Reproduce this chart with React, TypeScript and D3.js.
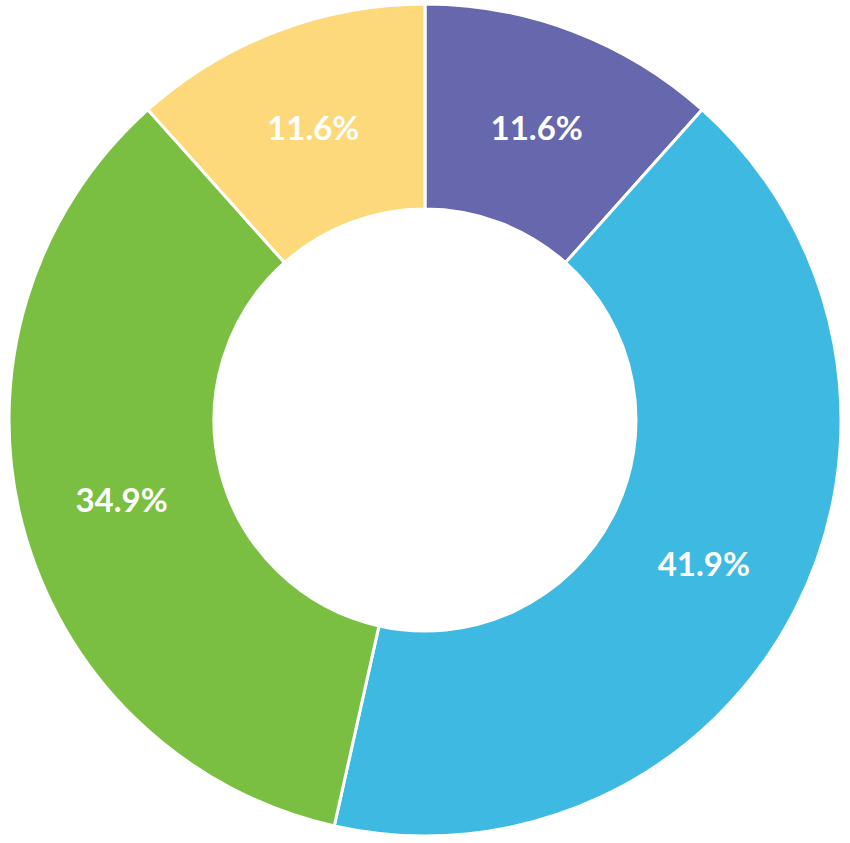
import React from "react";
import * as d3 from "d3";

const categories = ["A", "B", "C", "D"];
const values = [11.6, 41.9, 34.9, 11.6];
const labels = ["11.6%", "41.9%", "34.9%", "11.6%"];
const colors = ["#6667AD", "#3DB9E2", "#7ABF42", "#FDD97B"];

export default function App() {
  const width = 850;
  const height = 843;
  const cx = 425;
  const cy = 420;
  const outer = 416;
  const inner = 211;

  const data = categories.map((c, i) => ({ c, v: values[i], label: labels[i], color: colors[i] }));
  const pie = d3.pie<any>().value((d) => d.v).sort(null);
  const arcs = pie(data);
  const arc = d3.arc<any>().innerRadius(inner).outerRadius(outer);
  const labelArc = d3.arc<any>().innerRadius((inner + outer) / 2).outerRadius((inner + outer) / 2);

  return (
    <svg
      width={width}
      height={height}
      style={{ position: "absolute", left: 0, top: 0, background: "#fff" }}
    >
      <g transform={`translate(${cx},${cy})`}>
        {arcs.map((a, i) => (
          <path key={i} d={arc(a) as string} fill={a.data.color} stroke="#fff" strokeWidth={3} />
        ))}
        {arcs.map((a, i) => {
          const [x, y] = labelArc.centroid(a);
          return (
            <text
              key={"t" + i}
              x={x}
              y={y}
              textAnchor="middle"
              dominantBaseline="central"
              fill="#fff"
              fontFamily="Lato, sans-serif"
              fontWeight="bold"
              fontSize={33}
            >
              {a.data.label}
            </text>
          );
        })}
      </g>
    </svg>
  );
}
